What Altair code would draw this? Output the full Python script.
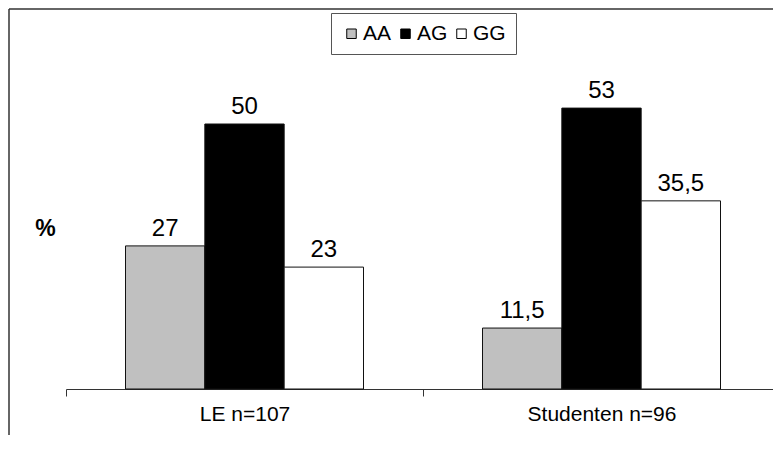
import altair as alt
import pandas as pd

groups = ["LE n=107", "Studenten n=96"]
genotypes = ["AA", "AG", "GG"]
values_le = [27, 50, 23]
values_st = [11.5, 53, 35.5]
colors = ["#c0c0c0", "#000000", "#ffffff"]

rows = []
for g, vals in zip(groups, [values_le, values_st]):
    for gt, v in zip(genotypes, vals):
        rows.append({"group": g, "genotype": gt, "value": v})
df = pd.DataFrame(rows)

FONT = "Liberation Sans"

x = alt.X("group:N", sort=groups, title=None,
          scale=alt.Scale(paddingInner=0, paddingOuter=0),
          axis=alt.Axis(labelAngle=0, labelFontSize=21, labelFont=FONT, labelColor="#000",
                        tickBand="extent", tickSize=7, tickColor="#333", domainColor="#333",
                        labelPadding=7, grid=False))
y = alt.Y("value:Q", scale=alt.Scale(domain=[0, 60], nice=False),
          axis=alt.Axis(title="%", titleAngle=0, titleX=-21, titleY=157, titleAlign="center",
                        titleBaseline="middle", titleFontSize=23, titleFont=FONT,
                        titleFontWeight="bold", titleColor="#000",
                        labels=False, ticks=False, domain=False, grid=False))
xo = alt.XOffset("genotype:N", sort=genotypes, scale=alt.Scale(paddingOuter=0.75, paddingInner=0))

bars = alt.Chart(df).mark_bar(stroke="#111", strokeWidth=1).encode(
    x=x, y=y, xOffset=xo,
    color=alt.Color("genotype:N", sort=genotypes,
                    scale=alt.Scale(domain=genotypes, range=colors),
                    legend=alt.Legend(title=None, orient="none", legendX=265, legendY=-58,
                                      direction="horizontal", symbolType="square",
                                      symbolSize=90, symbolStrokeColor="#000",
                                      symbolStrokeWidth=1, labelFontSize=21, labelFont=FONT,
                                      labelColor="#000", labelOffset=1, columnPadding=3,
                                      padding=10, strokeColor="#555", fillColor="#fff")),
)

labels = alt.Chart(df).transform_calculate(
    label="replace(toString(datum.value), '.', ',')"
).mark_text(baseline="alphabetic", dy=-10, fontSize=24, font=FONT, color="#000").encode(
    x=x, y=y, xOffset=xo, text="label:N"
)

frame_left = alt.Chart(alt.Data(values=[{}])).mark_rule(color="#333", strokeWidth=1.5).encode(
    x=alt.value(-57), y=alt.value(-62), y2=alt.value(420))
frame_top = alt.Chart(alt.Data(values=[{}])).mark_rule(color="#333", strokeWidth=1.5).encode(
    x=alt.value(-57), x2=alt.value(730), y=alt.value(-62))

chart = alt.layer(frame_left, frame_top, bars, labels).properties(
    width=714, height=318,
    padding={"left": 58, "top": 63, "right": -7, "bottom": 46},
    autosize=alt.AutoSizeParams(type="none"),
    background="#ffffff",
).configure_view(strokeWidth=0, stroke="transparent")

chart.save("out.html", embed_options={"renderer": "svg", "actions": False})
